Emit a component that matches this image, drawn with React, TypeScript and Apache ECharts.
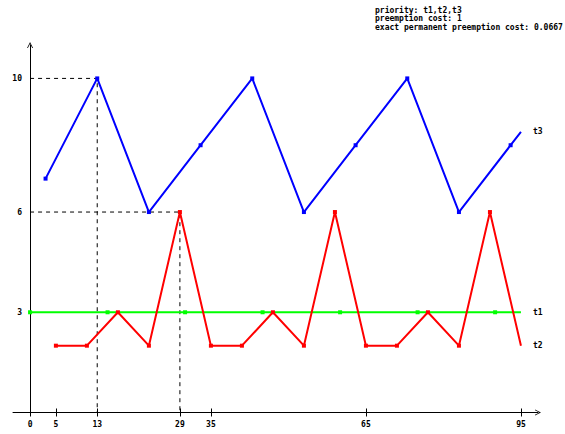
import React, { useEffect, useRef } from 'react';
import * as echarts from 'echarts';

// [x, y] points; last item of each series has no marker
const t1Points: number[][] = [[0, 3], [15, 3], [30, 3], [45, 3], [60, 3], [75, 3], [90, 3], [95, 3]];
const t2Points: number[][] = [
  [5, 2], [11, 2], [17, 3], [23, 2], [29, 6], [35, 2], [41, 2], [47, 3],
  [53, 2], [59, 6], [65, 2], [71, 2], [77, 3], [83, 2], [89, 6], [95, 2],
];
const t3Points: number[][] = [
  [3, 7], [13, 10], [23, 6], [33, 8], [43, 10], [53, 6], [63, 8], [73, 10], [83, 6], [93, 8], [95, 8.4],
];
const guide1: number[][] = [[0, 10], [13, 10], [13, 0]];
const guide2: number[][] = [[0, 6], [29, 6], [29, 0]];
const xTicks = [0, 5, 13, 29, 35, 65, 95];
const yTicks = [3, 6, 10];
const infoLines = ['priority: t1,t2,t3', 'preemption cost: 1', 'exact permanent preemption cost: 0.0667'];

const FONT = 'DejaVu Sans Mono';
const chevron = 'path://M0,10 L5,0 L10,10 L8.6,10 L5,2.8 L1.4,10 Z';

function toData(points: number[][]) {
  return points.map((p, i) =>
    i === points.length - 1 ? { value: p, symbol: 'none' } : { value: p }
  );
}

export default function App() {
  const ref = useRef<HTMLDivElement>(null);
  useEffect(() => {
    if (!ref.current) return;
    const chart = echarts.init(ref.current, null, { renderer: 'svg' });
    const labelStyle = { color: '#000', fontFamily: FONT, fontWeight: 'bold' as const, fontSize: 8 };
    const lineSeries = (name: string, pts: number[][], color: string) => ({
      type: 'line',
      name,
      data: toData(pts),
      symbol: 'rect',
      symbolSize: 4,
      lineStyle: { color, width: 2 },
      itemStyle: { color },
      endLabel: { show: true, formatter: name, distance: 12, ...labelStyle },
      silent: true,
    });
    chart.setOption({
      animation: false,
      backgroundColor: '#fff',
      grid: { left: 13, right: 27, top: 45, bottom: 21.5, containLabel: false, outerBoundsMode: 'none' },
      xAxis: [
        {
          type: 'value', min: -3.3, max: 98.3, position: 'bottom',
          splitLine: { show: false },
          axisLine: { show: true, lineStyle: { color: '#000', width: 1 }, symbol: ['none', chevron], symbolSize: [8, 6] },
          axisTick: { show: true, customValues: xTicks, length: 4, lineStyle: { color: '#000' } },
          axisLabel: { show: true, customValues: xTicks, margin: 8, ...labelStyle },
        },
        {
          type: 'value', min: -3.3, max: 98.3, position: 'bottom',
          splitLine: { show: false },
          axisLine: { show: false },
          axisTick: { show: true, inside: true, customValues: xTicks, length: 4, lineStyle: { color: '#000' } },
          axisLabel: { show: false },
        },
      ],
      yAxis: {
        type: 'value', min: 0, max: 11,
        splitLine: { show: false },
        axisLine: { show: true, onZero: true, lineStyle: { color: '#000', width: 1 }, symbol: ['none', chevron], symbolSize: [8, 6] },
        axisTick: { show: false },
        axisLabel: { show: true, customValues: yTicks, margin: -9, ...labelStyle },
      },
      graphic: infoLines.map((t, i) => ({
        type: 'text', left: 375, top: 6.5 + i * 8.3,
        style: { text: t, fill: '#000', font: `bold 8px "${FONT}"` },
      })),
      series: [
        {
          type: 'line', data: guide1, symbol: 'none', silent: true,
          lineStyle: { color: '#000', width: 1, type: [4, 4] },
        },
        {
          type: 'line', data: guide2, symbol: 'none', silent: true,
          lineStyle: { color: '#000', width: 1, type: [4, 4] },
        },
        lineSeries('t1', t1Points, '#00ff00'),
        lineSeries('t2', t2Points, '#ff0000'),
        lineSeries('t3', t3Points, '#0000ff'),
      ],
    });
    return () => chart.dispose();
  }, []);
  return <div ref={ref} style={{ position: 'fixed', left: 0, top: 0, width: 565, height: 434 }} />;
}
